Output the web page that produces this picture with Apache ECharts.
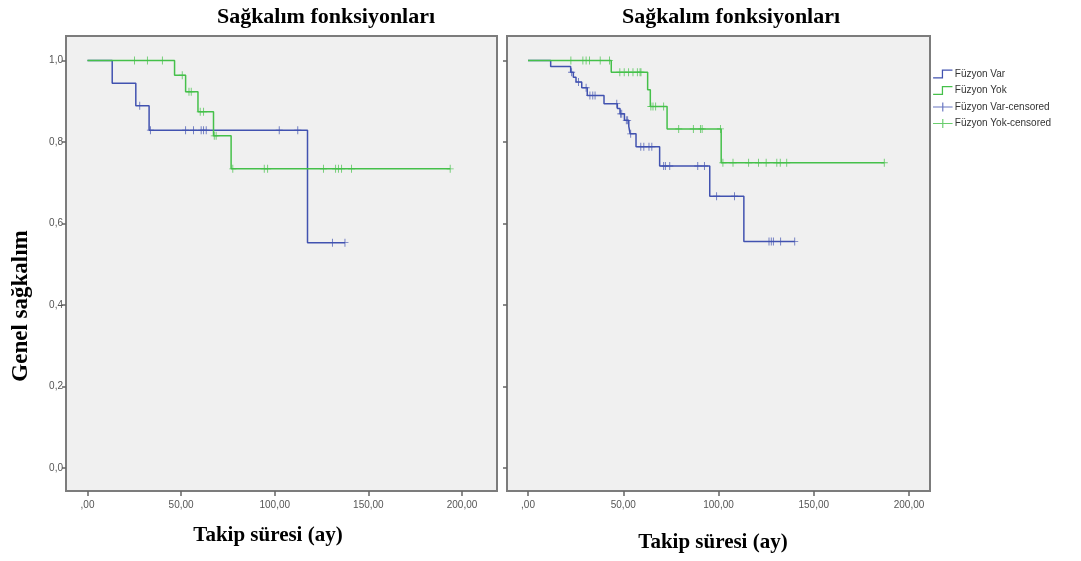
<!DOCTYPE html>
<html>
<head>
<meta charset="utf-8">
<script src="https://cdn.jsdelivr.net/npm/echarts@6/dist/echarts.min.js"></script>
<style>
  html, body { margin: 0; padding: 0; background: #fff; }
  #main { width: 1081px; height: 561px; }
</style>
</head>
<body>
<div id="main"></div>
<script>
// sol panel (Füzyon Var / Yok)
var leftVarTimes = [13.2, 25.8, 32.9, 117.5];
var leftVarSurv  = [0.944, 0.889, 0.829, 0.553];
var leftVarCens  = [27.9, 33.6, 52.4, 56.6, 60.7, 62.0, 63.4, 102.4, 112.3, 130.8, 137.5];

var leftYokTimes = [46.5, 52.4, 59.0, 67.3, 76.7];
var leftYokSurv  = [0.964, 0.923, 0.874, 0.815, 0.734];
var leftYokCens  = [25.1, 32.0, 40.0, 50.6, 54.2, 55.4, 60.2, 62.0, 67.7, 68.7, 77.6, 94.4, 96.2,
                    126.0, 132.5, 134.0, 135.7, 141.0, 193.7];

// sag panel
var rightVarTimes = [11.9, 22.4, 23.8, 25.2, 28.2, 31.1, 39.9, 46.9, 48.3, 50.6, 52.9, 53.6, 56.7, 69.1, 95.4, 113.3];
var rightVarSurv  = [0.985, 0.971, 0.959, 0.947, 0.933, 0.914, 0.894, 0.882, 0.869, 0.853, 0.838, 0.820, 0.788, 0.741, 0.667, 0.556];
var rightVarCens  = [22.9, 26.5, 30.5, 32.5, 34.0, 35.2, 46.6, 48.6, 49.2, 51.6, 52.3, 53.9, 59.2, 60.8, 63.5, 65.0,
                     71.2, 72.1, 74.4, 89.1, 92.6, 99.0, 108.4, 126.5, 127.7, 128.8, 132.6, 140.0];

var rightYokTimes = [43.7, 62.8, 64.2, 73.0, 101.4];
var rightYokSurv  = [0.971, 0.928, 0.887, 0.832, 0.749];
var rightYokCens  = [22.5, 28.8, 30.5, 32.3, 37.9, 42.8, 48.2, 50.5, 52.8, 55.1, 57.4, 58.8, 59.3,
                     64.5, 65.6, 67.0, 71.2, 79.1, 86.8, 90.5, 91.4, 101.0,
                     102.3, 107.6, 115.8, 121.0, 125.0, 130.6, 132.4, 135.8, 187.0];

var xTicks = [0, 50, 100, 150, 200];
var yTicks = [0, 0.2, 0.4, 0.6, 0.8, 1.0];

var BLUE = '#4152b0';
var GREEN = '#45c04a';
var SERIF = '"Liberation Serif", "Times New Roman", serif';
var SANS = '"Liberation Sans", Arial, sans-serif';

// survival at time t
function survAt(times, surv, t) {
  var s = 1;
  for (var i = 0; i < times.length; i++) {
    if (times[i] <= t) s = surv[i];
  }
  return s;
}

function kmLine(times, surv, cens) {
  var pts = [[0, 1]];
  for (var i = 0; i < times.length; i++) pts.push([times[i], surv[i]]);
  var end = Math.max(times[times.length - 1], cens[cens.length - 1]);
  pts.push([end, surv[surv.length - 1]]);
  return pts;
}

function censPts(times, surv, cens) {
  return cens.map(function (t) { return [t, survAt(times, surv, t)]; });
}

var plusIcon = 'path://M0,3.6 L8,3.6 L8,4.4 L0,4.4 Z M3.5,0 L4.5,0 L4.5,8 L3.5,8 Z';
var stepIcon = 'path://M0,8 L9,8 L9,0 L20,0 L20,1.3 L10.3,1.3 L10.3,9.3 L0,9.3 Z';
var censIcon = 'path://M0,4 L20,4 L20,5.2 L0,5.2 Z M9.4,0 L10.6,0 L10.6,9.2 L9.4,9.2 Z';

function fmtX(v) { return v === 0 ? ',00' : v.toFixed(2).replace('.', ','); }
function fmtY(v) { return v.toFixed(1).replace('.', ','); }

function xAxisFor(idx, min, max) {
  return {
    gridIndex: idx, type: 'value', min: min, max: max,
    axisLine: { show: false, onZero: false }, splitLine: { show: false },
    axisTick: { customValues: xTicks, length: 5, lineStyle: { color: '#666', width: 1.5 } },
    axisLabel: { customValues: xTicks, formatter: fmtX, fontSize: 10, color: '#555',
                 fontFamily: SANS, margin: 9 }
  };
}

function yAxisFor(idx, labels) {
  return {
    gridIndex: idx, type: 'value', min: -0.0564, max: 1.06,
    axisLine: { show: false, onZero: false }, splitLine: { show: false },
    axisTick: { customValues: yTicks, length: 4, lineStyle: { color: '#666', width: 1.5 } },
    axisLabel: { show: labels, customValues: yTicks, formatter: fmtY, fontSize: 10, color: '#555',
                 fontFamily: SANS, margin: 3 }
  };
}

function lineSeries(name, idx, color, data) {
  return {
    type: 'line', name: name, xAxisIndex: idx, yAxisIndex: idx, data: data,
    step: 'end', showSymbol: false, symbol: 'none',
    lineStyle: { color: color, width: 1.5 }, itemStyle: { color: color }
  };
}

function censSeries(name, idx, color, data) {
  return {
    type: 'scatter', name: name, xAxisIndex: idx, yAxisIndex: idx, data: data,
    symbol: plusIcon, symbolSize: [7, 8], itemStyle: { color: color }, z: 3
  };
}

var chart = echarts.init(document.getElementById('main'));

chart.setOption({
  animation: false,
  grid: [
    { left: 66, top: 36, width: 431, height: 455, show: true, backgroundColor: '#f0f0f0',
      borderColor: '#7c7c7c', borderWidth: 2 },
    { left: 507, top: 36, width: 423, height: 455, show: true, backgroundColor: '#f0f0f0',
      borderColor: '#7c7c7c', borderWidth: 2 }
  ],
  xAxis: [xAxisFor(0, -11.48, 218.7), xAxisFor(1, -11.02, 211.0)],
  yAxis: [yAxisFor(0, true), yAxisFor(1, false)],
  legend: {
    orient: 'vertical', left: 933, top: 69, padding: 0,
    itemWidth: 20, itemHeight: 9, itemGap: 6.5,
    textStyle: { fontSize: 10, color: '#333', fontFamily: SANS, padding: [0, 0, 0, -3] },
    data: [
      { name: 'Füzyon Var', icon: stepIcon },
      { name: 'Füzyon Yok', icon: stepIcon },
      { name: 'Füzyon Var-censored', icon: censIcon },
      { name: 'Füzyon Yok-censored', icon: censIcon }
    ]
  },
  graphic: [
    { type: 'text', x: 326, y: 17, style: { text: 'Sağkalım fonksiyonları', font: 'bold 22px ' + SERIF,
      fill: '#000', align: 'center', verticalAlign: 'middle', textAlign: 'center', textVerticalAlign: 'middle' } },
    { type: 'text', x: 731, y: 17, style: { text: 'Sağkalım fonksiyonları', font: 'bold 22px ' + SERIF,
      fill: '#000', align: 'center', verticalAlign: 'middle', textAlign: 'center', textVerticalAlign: 'middle' } },
    { type: 'text', x: 268, y: 536, style: { text: 'Takip süresi (ay)', font: 'bold 21px ' + SERIF,
      fill: '#000', align: 'center', verticalAlign: 'middle', textAlign: 'center', textVerticalAlign: 'middle' } },
    { type: 'text', x: 713, y: 543, style: { text: 'Takip süresi (ay)', font: 'bold 21px ' + SERIF,
      fill: '#000', align: 'center', verticalAlign: 'middle', textAlign: 'center', textVerticalAlign: 'middle' } },
    { type: 'text', x: 21, y: 306, rotation: Math.PI / 2, style: { text: 'Genel sağkalım', font: 'bold 23px ' + SERIF,
      fill: '#000', align: 'center', verticalAlign: 'middle', textAlign: 'center', textVerticalAlign: 'middle' } }
  ],
  series: [
    lineSeries('Füzyon Var', 0, BLUE, kmLine(leftVarTimes, leftVarSurv, leftVarCens)),
    lineSeries('Füzyon Yok', 0, GREEN, kmLine(leftYokTimes, leftYokSurv, leftYokCens)),
    censSeries('Füzyon Var-censored', 0, BLUE, censPts(leftVarTimes, leftVarSurv, leftVarCens)),
    censSeries('Füzyon Yok-censored', 0, GREEN, censPts(leftYokTimes, leftYokSurv, leftYokCens)),
    lineSeries('Füzyon Var', 1, BLUE, kmLine(rightVarTimes, rightVarSurv, rightVarCens)),
    lineSeries('Füzyon Yok', 1, GREEN, kmLine(rightYokTimes, rightYokSurv, rightYokCens)),
    censSeries('Füzyon Var-censored', 1, BLUE, censPts(rightVarTimes, rightVarSurv, rightVarCens)),
    censSeries('Füzyon Yok-censored', 1, GREEN, censPts(rightYokTimes, rightYokSurv, rightYokCens))
  ]
});
</script>
</body>
</html>
